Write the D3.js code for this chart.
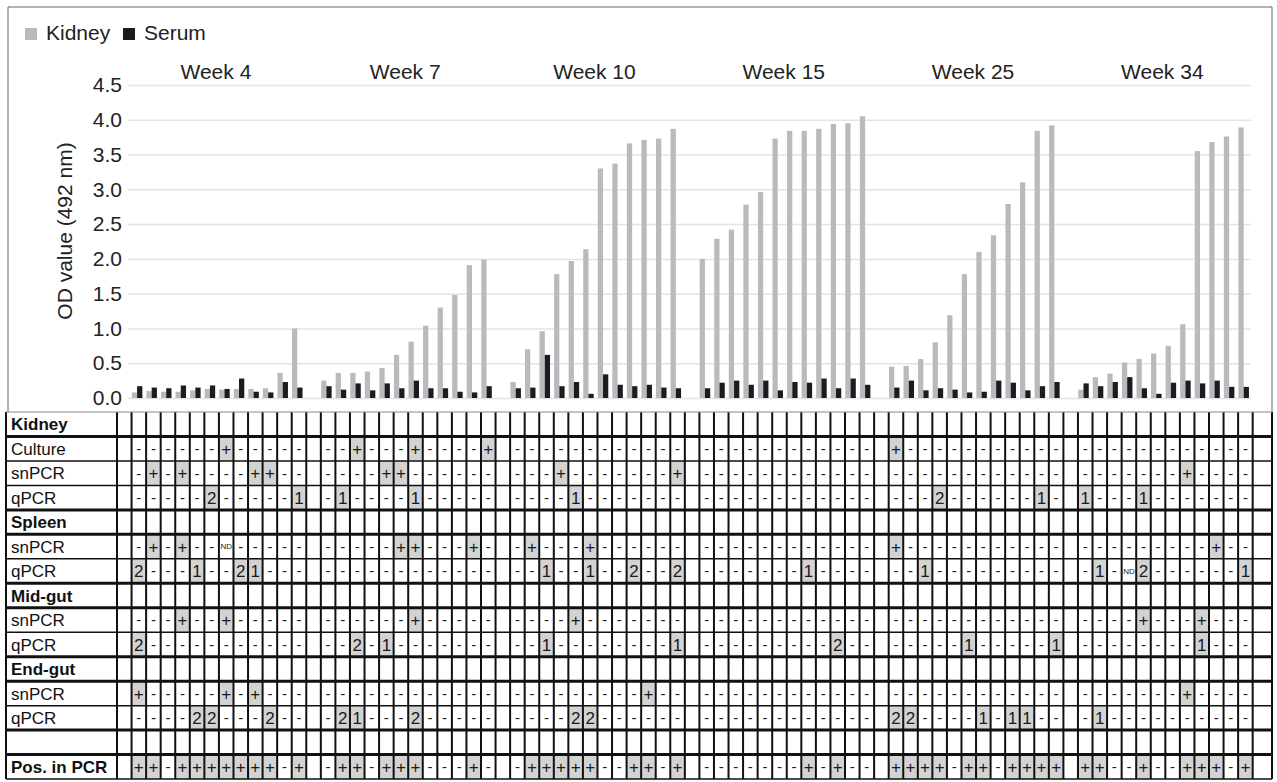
<!DOCTYPE html>
<html>
<head>
<meta charset="utf-8">
<script src="https://cdn.jsdelivr.net/npm/d3@7"></script>
<style>
  body { margin: 0; background: #fff; font-family: "Liberation Sans", Arial, sans-serif; }
</style>
</head>
<body>
<div id="wrapper"></div>
<script>
// 1. Data
const weeks = ["Week 4", "Week 7", "Week 10", "Week 15", "Week 25", "Week 34"]

const kidneyOD = [
  [0.08, 0.10, 0.09, 0.09, 0.11, 0.13, 0.12, 0.13, 0.13, 0.14, 0.36, 1.00],
  [0.25, 0.36, 0.36, 0.38, 0.43, 0.62, 0.81, 1.04, 1.30, 1.48, 1.91, 1.99],
  [0.23, 0.70, 0.96, 1.78, 1.97, 2.14, 3.30, 3.37, 3.66, 3.71, 3.73, 3.87],
  [2.00, 2.29, 2.42, 2.78, 2.96, 3.73, 3.84, 3.84, 3.87, 3.94, 3.95, 4.05],
  [0.45, 0.46, 0.56, 0.80, 1.19, 1.78, 2.10, 2.34, 2.79, 3.10, 3.84, 3.92],
  [0.12, 0.30, 0.35, 0.51, 0.56, 0.64, 0.75, 1.06, 3.55, 3.68, 3.76, 3.89],
]
const serumOD = [
  [0.17, 0.15, 0.14, 0.18, 0.15, 0.18, 0.13, 0.28, 0.09, 0.08, 0.23, 0.15],
  [0.17, 0.12, 0.21, 0.11, 0.21, 0.14, 0.25, 0.14, 0.14, 0.09, 0.08, 0.17],
  [0.14, 0.15, 0.62, 0.17, 0.23, 0.06, 0.34, 0.19, 0.17, 0.19, 0.15, 0.14],
  [0.14, 0.22, 0.25, 0.19, 0.25, 0.11, 0.23, 0.22, 0.28, 0.14, 0.28, 0.19],
  [0.15, 0.25, 0.11, 0.14, 0.12, 0.08, 0.09, 0.25, 0.22, 0.11, 0.17, 0.23],
  [0.21, 0.17, 0.23, 0.30, 0.14, 0.06, 0.22, 0.25, 0.21, 0.25, 0.16, 0.16],
]

const rowLabels = ["Kidney", "Culture", "snPCR", "qPCR", "Spleen", "snPCR", "qPCR",
  "Mid-gut", "snPCR", "qPCR", "End-gut", "snPCR", "qPCR", "", "Pos. in PCR"]
const boldRows = ["Kidney", "Spleen", "Mid-gut", "End-gut", "Pos. in PCR"]

// one string per week, one character per animal (N = ND)
const kidneyCulture = ["------+-----", "--+---+----+", "------------", "------------", "+-----------", "------------"]
const kidneySnPCR   = ["-+-+----++--", "----++------", "---+-------+", "------------", "------------", "-------+----"]
const kidneyQPCR    = ["-----2-----1", "-1----1-----", "----1-------", "------------", "---2------1-", "1---1-------"]
const spleenSnPCR   = ["-+-+--N-----", "-----++---+-", "-+---+------", "------------", "+-----------", "---------+--"]
const spleenQPCR    = ["2---1--21---", "------------", "--1--1--2--2", "-------1----", "--1---------", "-1-N2------1"]
const midgutSnPCR   = ["---+--+-----", "------+-----", "----+-------", "------------", "------------", "----+---+---"]
const midgutQPCR    = ["2-----------", "--2-1-------", "--1--------1", "---------2--", "-----1-----1", "--------1---"]
const endgutSnPCR   = ["+-----+-+---", "------------", "---------+--", "------------", "------------", "-------+----"]
const endgutQPCR    = ["----22---2--", "-21---2-----", "----22------", "------------", "22----1-11--", "-1----------"]
const posInPCR      = ["++-+++++++-+", "-++-+++---+-", "-+++++--++-+", "-------+-+--", "++++-++-++++", "++--+--+++-+"]

const tableRows = [null, kidneyCulture, kidneySnPCR, kidneyQPCR, null, spleenSnPCR, spleenQPCR,
  null, midgutSnPCR, midgutQPCR, null, endgutSnPCR, endgutQPCR, null, posInPCR]

// 2. Dimensions
const width = 1277, height = 782
const tableTop = 412, rowH = 24.47
const labelRight = 117, colW = 14.56
const tableLeft = 6, tableRight = 1272

// 3. Canvas
const svg = d3.select("#wrapper").append("svg")
    .attr("width", width)
    .attr("height", height)
    .style("font-family", "'Liberation Sans', Arial, sans-serif")

// 4. Scales
const colKeys = ["lead"]
weeks.forEach((w, wi) => {
  d3.range(12).forEach(a => colKeys.push(w + "|" + a))
  colKeys.push(wi < weeks.length - 1 ? "gap" + wi : "tail")
})
const x = d3.scaleBand().domain(colKeys)
    .range([labelRight, labelRight + colKeys.length * colW])
const sub = d3.scaleBand().domain(["kidney", "serum"]).range([0.3, 10.8])
const y = d3.scaleLinear().domain([0, 4.5]).range([398, 85])

const barData = weeks.flatMap((w, wi) => d3.range(12).map(a => ({
  key: w + "|" + a, kidney: kidneyOD[wi][a], serum: serumOD[wi][a]
})))

// chart frame
svg.append("path")
    .attr("d", `M8,${tableTop} V7 H${tableRight} V${tableTop}`)
    .attr("fill", "none")
    .attr("stroke", "#666")
    .attr("stroke-width", 1)

// 5. Grid + axis
const axis = svg.append("g")
    .attr("transform", "translate(128,0)")
    .call(d3.axisLeft(y).ticks(9).tickFormat(d3.format(".1f"))
      .tickSize(-(1251 - 128)).tickPadding(6))
axis.select(".domain").remove()
axis.selectAll("line").attr("stroke", "#e3e3e3").attr("stroke-width", 1.5)
axis.selectAll("text").attr("font-size", 21).attr("fill", "#222")
    .attr("font-family", "'Liberation Sans', Arial, sans-serif")

svg.append("text")
    .attr("transform", "translate(72,231) rotate(-90)")
    .attr("text-anchor", "middle")
    .attr("font-size", 21)
    .attr("fill", "#222")
    .text("OD value (492 nm)")

// bars
const groups = svg.append("g").selectAll("g")
    .data(barData)
    .join("g")
      .attr("transform", d => `translate(${x(d.key)},0)`)
groups.append("rect")
    .attr("x", sub("kidney")).attr("width", sub.bandwidth())
    .attr("y", d => y(d.kidney)).attr("height", d => y(0) - y(d.kidney))
    .attr("fill", "#b9babd")
groups.append("rect")
    .attr("x", sub("serum")).attr("width", sub.bandwidth())
    .attr("y", d => y(d.serum)).attr("height", d => y(0) - y(d.serum))
    .attr("fill", "#1c1c20")

// week labels
svg.append("g").selectAll("text")
    .data(weeks)
    .join("text")
      .attr("x", w => (x(w + "|0") + x(w + "|11") + colW) / 2 - 3)
      .attr("y", 79)
      .attr("text-anchor", "middle")
      .attr("font-size", 21)
      .attr("fill", "#222")
      .text(w => w)

// legend
const legend = svg.append("g")
const legendItems = [["Kidney", "#b9babd", 25], ["Serum", "#1c1c20", 123]]
legendItems.forEach(([name, color, lx]) => {
  legend.append("rect").attr("x", lx).attr("y", 28).attr("width", 12).attr("height", 12).attr("fill", color)
  legend.append("text").attr("x", lx + 21).attr("y", 40).attr("font-size", 21).attr("fill", "#222").text(name)
})

// 6. Table
const table = svg.append("g")
const cells = []
tableRows.forEach((row, ri) => {
  if (!row) return
  row.forEach((s, wi) => {
    s.split("").forEach((c, a) => cells.push({ri, key: weeks[wi] + "|" + a, v: c === "N" ? "ND" : c}))
  })
})

table.selectAll("rect.pos")
  .data(cells.filter(d => d.v === "+" || /\d/.test(d.v)))
  .join("rect")
    .attr("class", "pos")
    .attr("x", d => x(d.key))
    .attr("y", d => tableTop + d.ri * rowH)
    .attr("width", x.bandwidth())
    .attr("height", rowH)
    .attr("fill", "#d3d3d3")

table.selectAll("text.cell")
  .data(cells)
  .join("text")
    .attr("class", "cell")
    .attr("x", d => x(d.key) + x.bandwidth() / 2)
    .attr("y", d => tableTop + d.ri * rowH + rowH / 2)
    .attr("dy", "0.36em")
    .attr("text-anchor", "middle")
    .attr("font-size", d => d.v === "ND" ? 8 : (d.v === "-" ? 15 : 17))
    .attr("fill", "#1a1a1a")
    .text(d => d.v)

table.selectAll("text.label")
  .data(rowLabels)
  .join("text")
    .attr("class", "label")
    .attr("x", 11)
    .attr("y", (d, i) => tableTop + i * rowH + rowH / 2)
    .attr("dy", "0.36em")
    .attr("font-size", 17)
    .attr("font-weight", d => boldRows.includes(d) ? "bold" : "normal")
    .attr("fill", "#111")
    .text(d => d)

// grid lines
const tableBottom = tableTop + rowLabels.length * rowH
const vx = [tableLeft, labelRight, ...colKeys.slice(1).map(k => x(k)), tableRight]
table.selectAll("line.v")
  .data(vx)
  .join("line")
    .attr("class", "v")
    .attr("x1", d => d).attr("x2", d => d)
    .attr("y1", tableTop).attr("y2", tableBottom)
    .attr("stroke", "#111").attr("stroke-width", 2)

const thick = [1, 4, 5, 7, 8, 10, 11, 13, 14]
table.selectAll("line.h")
  .data(d3.range(rowLabels.length + 1))
  .join("line")
    .attr("class", "h")
    .attr("x1", tableLeft).attr("x2", tableRight)
    .attr("y1", i => tableTop + i * rowH).attr("y2", i => tableTop + i * rowH)
    .attr("stroke", i => i === 0 ? "#888" : "#111")
    .attr("stroke-width", i => i === 0 ? 1 : (thick.includes(i) ? 3 : 1.5))
</script>
</body>
</html>
